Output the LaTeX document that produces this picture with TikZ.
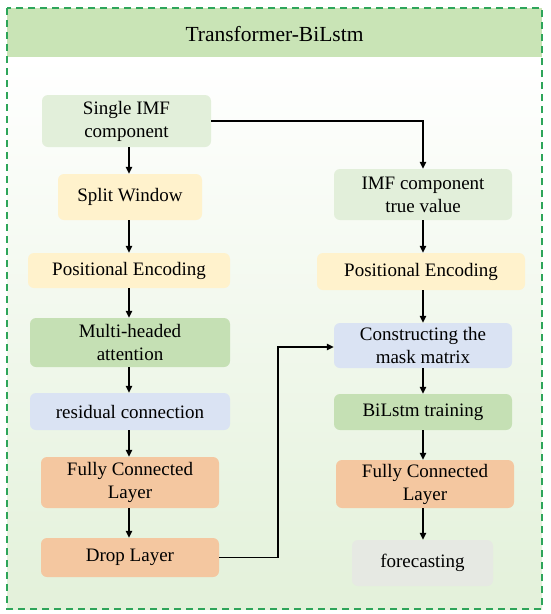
\documentclass[tikz,border=0pt]{standalone}
\usepackage{fontspec}
\setmainfont{Liberation Serif}
\usetikzlibrary{arrows.meta}
\definecolor{hdr}{HTML}{C9E4B6}
\definecolor{bodybot}{HTML}{E3F1DA}
\definecolor{dashgreen}{HTML}{2EA55A}
\definecolor{cLgreen}{HTML}{E2EFDA}
\definecolor{cYellow}{HTML}{FFF2CC}
\definecolor{cGreen}{HTML}{C5E0B4}
\definecolor{cBlue}{HTML}{DAE3F3}
\definecolor{cOrange}{HTML}{F4C7A0}
\definecolor{cGray}{HTML}{E6E9E3}
\tikzset{
  box/.style={rounded corners=6pt, draw=none, inner sep=0pt, align=center,
    font=\fontsize{19}{23}\selectfont},
  arr/.style={line width=1.4pt, -{Triangle[length=7pt,width=6.5pt]}},
  plainline/.style={line width=1.4pt},
}
\begin{document}
\begin{tikzpicture}[x=1pt,y=-1pt]
\useasboundingbox (0,0) rectangle (550,614);
% background
\shade[top color=white, bottom color=bodybot] (7,57) rectangle (542,609);
\fill[hdr] (7,8) rectangle (542,57);
\node[font=\fontsize{21.5}{26}\selectfont] (title) at (274.5,34) {Transformer-BiLstm};
\draw[dashgreen, line width=2pt, dash pattern=on 7pt off 5pt] (7,8) rectangle (542,609);
% left column
\node[box, fill=cLgreen, minimum width=169pt, minimum height=52pt] (imf) at (126.5,121) {Single IMF\\component};
\node[box, fill=cYellow, minimum width=144pt, minimum height=46pt] (split) at (130,197) {Split Window};
\node[box, fill=cYellow, minimum width=202pt, minimum height=35pt] (pe1) at (129,270.5) {Positional Encoding};
\node[box, fill=cGreen, minimum width=200pt, minimum height=49pt] (mha) at (130,342.5) {Multi-headed\\attention};
\node[box, fill=cBlue, minimum width=200pt, minimum height=37pt] (res) at (130,411.5) {residual connection};
\node[box, fill=cOrange, minimum width=178pt, minimum height=51pt] (fc1) at (130,482.5) {Fully Connected\\Layer};
\node[box, fill=cOrange, minimum width=178pt, minimum height=39pt] (drop) at (130,557.5) {Drop Layer};
% right column
\node[box, fill=cLgreen, minimum width=178pt, minimum height=51pt] (true) at (423,194.5) {IMF component\\true value};
\node[box, fill=cYellow, minimum width=208pt, minimum height=37pt] (pe2) at (421,271.5) {Positional Encoding};
\node[box, fill=cBlue, minimum width=178pt, minimum height=45pt] (mask) at (423,345.5) {Constructing the\\mask matrix};
\node[box, fill=cGreen, minimum width=178pt, minimum height=36pt] (bil) at (423,412) {BiLstm training};
\node[box, fill=cOrange, minimum width=178pt, minimum height=48pt] (fc2) at (425,484) {Fully Connected\\Layer};
\node[box, fill=cGray, minimum width=141pt, minimum height=46pt] (fore) at (422.5,563) {forecasting};
% coordinates for bends
\coordinate (c1) at (423,121);
\coordinate (c2) at (278,557.5);
\coordinate (c3) at (278,347);
% arrows left
\draw[arr] (imf.south -| 129,0) -- (split.north -| 129,0);
\draw[arr] (split.south -| 129,0) -- (pe1.north -| 129,0);
\draw[arr] (pe1.south -| 129,0) -- (mha.north -| 129,0);
\draw[arr] (mha.south -| 129,0) -- (res.north -| 129,0);
\draw[arr] (res.south -| 129,0) -- (fc1.north -| 129,0);
\draw[arr] (fc1.south -| 129,0) -- (drop.north -| 129,0);
% arrows right
\draw[arr] (imf.east) -- (c1) -- (true.north -| c1);
\draw[arr] (true.south -| c1) -- (pe2.north -| c1);
\draw[arr] (pe2.south -| c1) -- (mask.north -| c1);
\draw[arr] (mask.south -| c1) -- (bil.north -| c1);
\draw[arr] (bil.south -| c1) -- (fc2.north -| c1);
\draw[arr] (fc2.south -| c1) -- (fore.north -| c1);
% feedback
\draw[arr] (drop.east) -- (c2) -- (c3) -- (mask.west |- c3);
\end{tikzpicture}
\end{document}
